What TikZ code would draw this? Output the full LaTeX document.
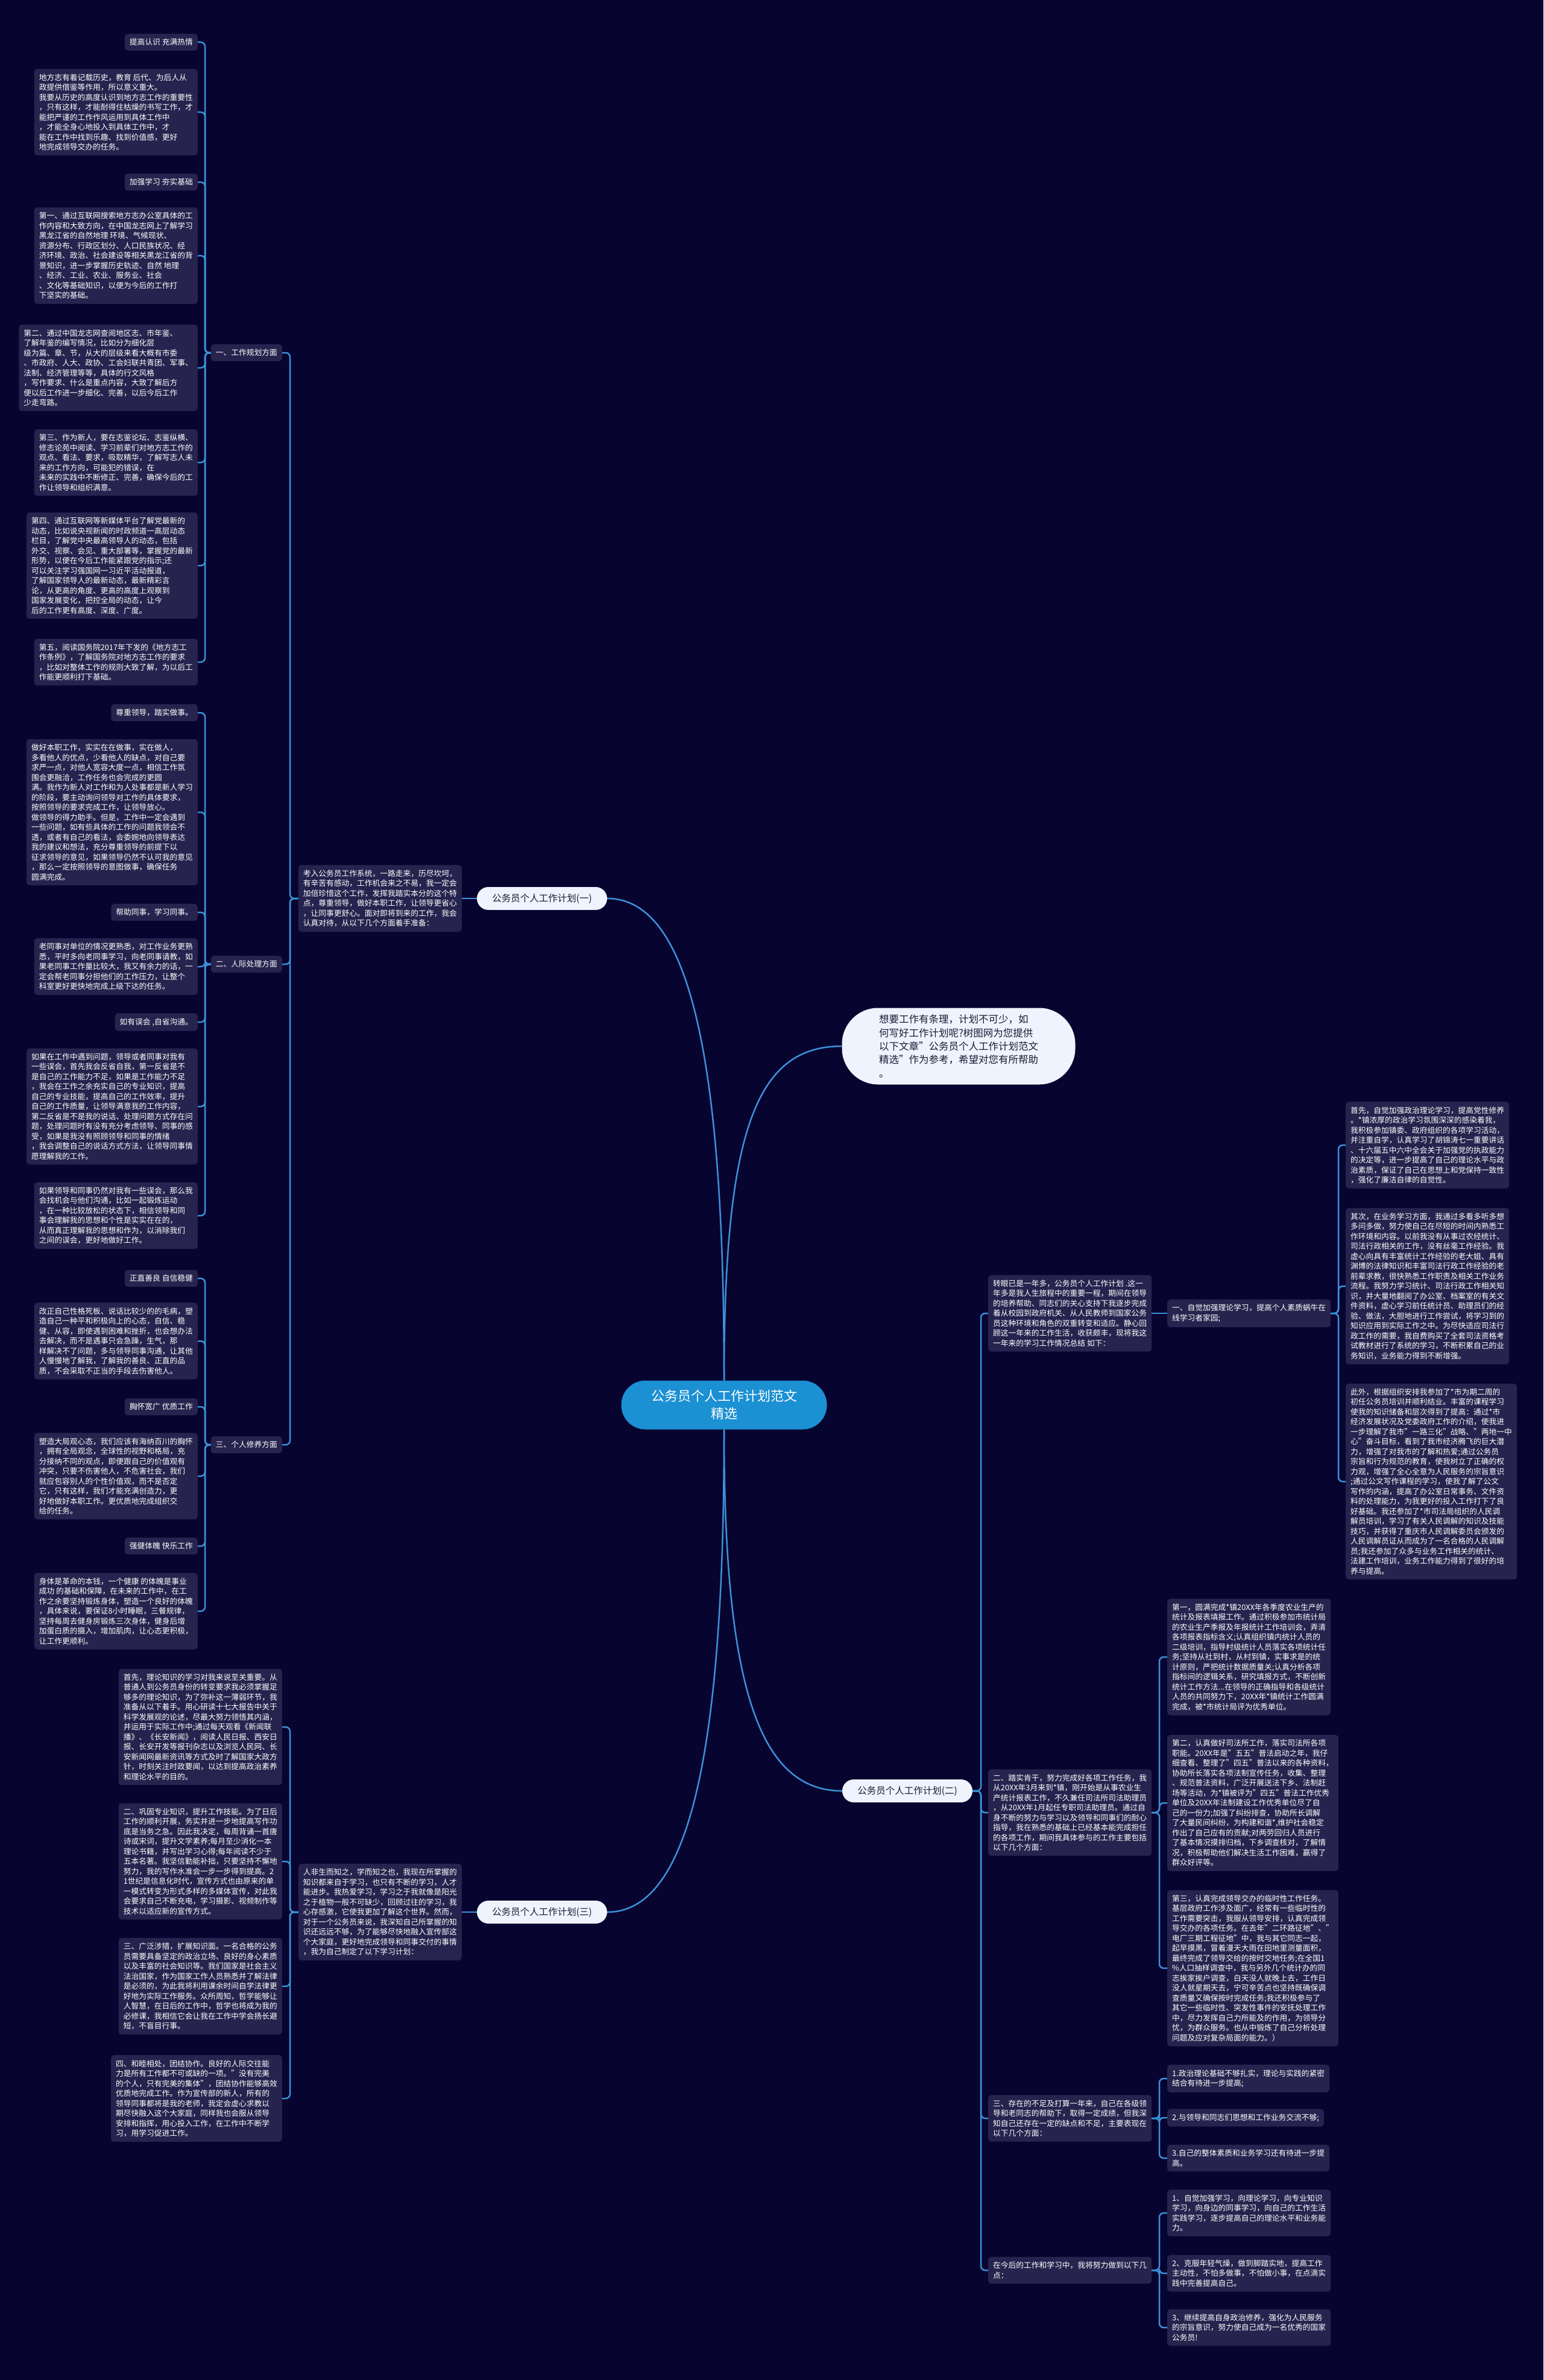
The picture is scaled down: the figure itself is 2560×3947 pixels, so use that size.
\documentclass[tikz,border=0pt]{standalone}
\usepackage{fontspec}
\setmainfont{Noto Sans CJK SC}
\definecolor{bg}{HTML}{080430}
\definecolor{boxc}{HTML}{26244E}
\definecolor{linec}{HTML}{3A92DA}
\definecolor{brc}{HTML}{EEF3FD}
\definecolor{brt}{HTML}{1A1A33}
\definecolor{ctrc}{HTML}{1B90D3}
\tikzset{
 bx/.style={fill=boxc, text=white, rounded corners=5pt, inner xsep=8pt, inner ysep=8pt, align=left, font=\fontsize{12.75}{16.5}\selectfont},
 bxl/.style={bx, anchor=east},
 bxr/.style={bx, anchor=west},
 brn/.style={fill=brc, text=brt, rounded corners=19pt, minimum width=216pt, minimum height=38pt, inner sep=0pt, font=\fontsize{15.5}{18}\selectfont},
 ctr/.style={fill=ctrc, text=white, rounded corners=40pt, minimum width=341pt, minimum height=81pt, inner sep=0pt, align=center, font=\fontsize{22}{29}\selectfont},
 intro/.style={fill=brc, text=brt, rounded corners=60pt, minimum width=387pt, minimum height=127pt, inner sep=0pt, align=left, font=\fontsize{16.5}{22.3}\selectfont},
 conn/.style={draw=linec, line width=2.5pt, rounded corners=7pt},
 curv/.style={draw=linec, line width=2.5pt},
}
\begin{document}
\begin{tikzpicture}[x=1pt,y=-1pt]
\fill[bg] (0,0) rectangle (2560,3947);
\useasboundingbox (0,0) rectangle (2560,3947);

% ---------- center, intro, branches ----------
\node[ctr] (C) at (1201,2330) {公务员个人工作计划范文\\精选};
\node[intro] (I) at (1590,1735) {想要工作有条理，计划不可少，如\\何写好工作计划呢?树图网为您提供\\以下文章"公务员个人工作计划范文\\精选"作为参考，希望对您有所帮助\\。};
\node[brn] (B1) at (899,1490) {公务员个人工作计划(一)};
\node[brn] (B2) at (1505,2970) {公务员个人工作计划(二)};
\node[brn] (B3) at (899,3171) {公务员个人工作计划(三)};

% ---------- branch (一) ----------
\node[bxl] (K1) at (766,1490) {考入公务员工作系统，一路走来，历尽坎坷，\\有辛苦有感动，工作机会来之不易，我一定会\\加倍珍惜这个工作，发挥我踏实本分的这个特\\点，尊重领导，做好本职工作，让领导更省心\\，让同事更舒心。面对即将到来的工作，我会\\认真对待，从以下几个方面着手准备：};
\node[bxl] (L1) at (468,585) {一、工作规划方面};
\node[bxl] (L2) at (468,1599) {二、人际处理方面};
\node[bxl] (L3) at (468,2396) {三、个人修养方面};

\node[bxl] (a1) at (328,70) {提高认识 充满热情};
\node[bxl] (a2) at (328,186) {地方志有着记载历史，教育 后代、为后人从\\政提供借鉴等作用，所以意义重大。\\我要从历史的高度认识到地方志工作的重要性\\，只有这样，才能耐得住枯燥的书写工作，才\\能把严谨的工作作风运用到具体工作中\\，才能全身心地投入到具体工作中，才\\能在工作中找到乐趣、找到价值感，更好\\地完成领导交办的任务。};
\node[bxl] (a3) at (328,302) {加强学习 夯实基础};
\node[bxl] (a4) at (328,424) {第一、通过互联网搜索地方志办公室具体的工\\作内容和大致方向，在中国龙志网上了解学习\\黑龙江省的自然地理 环境、气候现状、\\资源分布、行政区划分、人口民族状况、经\\济环境、政治、社会建设等相关黑龙江省的背\\景知识，进一步掌握历史轨迹、自然 地理\\、经济、工业、农业、服务业、社会\\、文化等基础知识，以便为今后的工作打\\下坚实的基础。};
\node[bxl] (a5) at (328,610) {第二、通过中国龙志网查阅地区志、市年鉴、\\了解年鉴的编写情况，比如分为细化层\\级为篇、章、节，从大的层级来看大概有市委\\、市政府、人大、政协、工会妇联共青团、军事、\\法制、经济管理等等，具体的行文风格\\，写作要求、什么是重点内容，大致了解后方\\便以后工作进一步细化、完善，以后今后工作\\少走弯路。};
\node[bxl] (a6) at (328,767) {第三、作为新人，要在志鉴论坛、志鉴纵横、\\修志论苑中阅读、学习前辈们对地方志工作的\\观点、看法、要求，吸取精华，了解写志人未\\来的工作方向，可能犯的错误，在\\未来的实践中不断修正、完善，确保今后的工\\作让领导和组织满意。};
\node[bxl] (a7) at (328,938) {第四、通过互联网等新媒体平台了解党最新的\\动态，比如说央视新闻的时政频道一高层动态\\栏目，了解党中央最高领导人的动态，包括\\外交、视察、会见、重大部署等，掌握党的最新\\形势，以便在今后工作能紧跟党的指示;还\\可以关注学习强国网一习近平活动报道，\\了解国家领导人的最新动态，最新精彩言\\论，从更高的角度、更高的高度上观察到\\国家发展变化，把控全局的动态，让今\\后的工作更有高度、深度、广度。};
\node[bxl] (a8) at (328,1098) {第五，阅读国务院2017年下发的《地方志工\\作条例》，了解国务院对地方志工作的要求\\，比如对整体工作的规则大致了解，为以后工\\作能更顺利打下基础。};

\node[bxl] (b1) at (328,1182) {尊重领导，踏实做事。};
\node[bxl] (b2) at (328,1347) {做好本职工作，实实在在做事，实在做人，\\多看他人的优点，少看他人的缺点，对自己要\\求严一点，对他人宽容大度一点，相信工作氛\\围会更融洽，工作任务也会完成的更圆\\满。我作为新人对工作和为人处事都是新人学习\\的阶段，要主动询问领导对工作的具体要求，\\按照领导的要求完成工作，让领导放心。\\做领导的得力助手。但是，工作中一定会遇到\\一些问题，如有些具体的工作的问题我领会不\\透，或者有自己的看法，会委婉地向领导表达\\我的建议和想法，充分尊重领导的前提下以\\征求领导的意见，如果领导仍然不认可我的意见\\，那么一定按照领导的意图做事，确保任务\\圆满完成。};
\node[bxl] (b3) at (328,1513) {帮助同事，学习同事。};
\node[bxl] (b4) at (328,1603) {老同事对单位的情况更熟悉，对工作业务更熟\\悉，平时多向老同事学习，向老同事请教，如\\果老同事工作量比较大，我又有余力的话，一\\定会帮老同事分担他们的工作压力，让整个\\科室更好更快地完成上级下达的任务。};
\node[bxl] (b5) at (328,1695) {如有误会 ,自省沟通。};
\node[bxl] (b6) at (328,1835) {如果在工作中遇到问题，领导或者同事对我有\\一些误会，首先我会反省自我，第一反省是不\\是自己的工作能力不足，如果是工作能力不足\\，我会在工作之余充实自己的专业知识，提高\\自己的专业技能，提高自己的工作效率，提升\\自己的工作质量，让领导满意我的工作内容，\\第二反省是不是我的说话、处理问题方式存在问\\题，处理问题时有没有充分考虑领导、同事的感\\受，如果是我没有照顾领导和同事的情绪\\，我会调整自己的说话方式方法，让领导同事情\\愿理解我的工作。};
\node[bxl] (b7) at (328,2016) {如果领导和同事仍然对我有一些误会，那么我\\会找机会与他们沟通，比如一起锻炼运动\\，在一种比较放松的状态下，相信领导和同\\事会理解我的思想和个性是实实在在的，\\从而真正理解我的思想和作为，以消除我们\\之间的误会，更好地做好工作。};

\node[bxl] (c1) at (328,2120) {正直善良 自信稳健};
\node[bxl] (c2) at (328,2224) {改正自己性格死板、说话比较少的的毛病，塑\\造自己一种平和积极向上的心态，自信、稳\\健、从容，即使遇到困难和挫折，也会想办法\\去解决，而不是遇事只会急躁，生气，那\\样解决不了问题，多与领导同事沟通，让其他\\人慢慢地了解我，了解我的善良、正直的品\\质，不会采取不正当的手段去伤害他人。};
\node[bxl] (c3) at (328,2333) {胸怀宽广 优质工作};
\node[bxl] (c4) at (328,2448) {塑造大局观心态，我们应该有海纳百川的胸怀\\，拥有全局观念，全球性的视野和格局，充\\分接纳不同的观点，即便跟自己的价值观有\\冲突，只要不伤害他人，不危害社会，我们\\就应包容别人的个性价值观，而不是否定\\它，只有这样，我们才能充满创造力，更\\好地做好本职工作。更优质地完成组织交\\给的任务。};
\node[bxl] (c5) at (328,2564) {强健体魄 快乐工作};
\node[bxl] (c6) at (328,2672) {身体是革命的本钱，一个健康 的体魄是事业\\成功 的基础和保障，在未来的工作中，在工\\作之余要坚持锻炼身体，塑造一个良好的体魄\\，具体来说，要保证8小时睡眠，三餐规律，\\坚持每周去健身房锻炼三次身体，健身后增\\加蛋白质的摄入，增加肌肉，让心态更积极，\\让工作更顺利。};

% ---------- branch (三) ----------
\node[bxl] (K3) at (766,3171) {人非生而知之，学而知之也，我现在所掌握的\\知识都来自于学习，也只有不断的学习，人才\\能进步。我热爱学习，学习之于我就像是阳光\\之于植物一般不可缺少，回顾过往的学习，我\\心存感激，它使我更加了解这个世界。然而，\\对于一个公务员来说，我深知自己所掌握的知\\识还远远不够，为了能够尽快地融入宣传部这\\个大家庭，更好地完成领导和同事交付的事情\\，我为自己制定了以下学习计划：};
\node[bxl] (d1) at (468,2864) {首先，理论知识的学习对我来说至关重要。从\\普通人到公务员身份的转变要求我必须掌握足\\够多的理论知识，为了弥补这一薄弱环节，我\\准备从以下着手。用心研读十七大报告中关于\\科学发展观的论述，尽最大努力领悟其内涵，\\并运用于实际工作中;通过每天观看《新闻联\\播》、《长安新闻》，阅读人民日报、西安日\\报、长安开发等报刊杂志以及浏览人民网、长\\安新闻网最新资讯等方式及时了解国家大政方\\针，时刻关注时政要闻，以达到提高政治素养\\和理论水平的目的。};
\node[bxl] (d2) at (468,3087) {二、巩固专业知识，提升工作技能。为了日后\\工作的顺利开展，务实并进一步地提高写作功\\底是当务之急。因此我决定，每周背诵一首唐\\诗或宋词，提升文学素养;每月至少消化一本\\理论书籍，并写出学习心得;每年阅读不少于\\五本名著。我坚信勤能补拙，只要坚持不懈地\\努力，我的写作水准会一步一步得到提高。2\\1世纪是信息化时代，宣传方式也由原来的单\\一模式转变为形式多样的多媒体宣传，对此我\\会要求自己不断充电，学习摄影、视频制作等\\技术以适应新的宣传方式。};
\node[bxl] (d3) at (468,3294) {三、广泛涉猎，扩展知识面。一名合格的公务\\员需要具备坚定的政治立场、良好的身心素质\\以及丰富的社会知识等。我们国家是社会主义\\法治国家，作为国家工作人员熟悉并了解法律\\是必须的，为此我将利用课余时间自学法律更\\好地为实际工作服务。众所周知，哲学能够让\\人智慧，在日后的工作中，哲学也将成为我的\\必修课，我相信它会让我在工作中学会扬长避\\短，不盲目行事。};
\node[bxl] (d4) at (468,3480) {四、和睦相处，团结协作。良好的人际交往能\\力是所有工作都不可或缺的一项。"没有完美\\的个人，只有完美的集体"，团结协作能够高效\\优质地完成工作。作为宣传部的新人，所有的\\领导同事都将是我的老师，我定会虚心求教以\\期尽快融入这个大家庭，同样我也会服从领导\\安排和指挥，用心投入工作，在工作中不断学\\习，用学习促进工作。};

% ---------- branch (二) ----------
\node[bxr] (e1) at (1639,2178) {转眼已是一年多，公务员个人工作计划 .这一\\年多是我人生旅程中的重要一程，期间在领导\\的培养帮助、同志们的关心支持下我逐步完成\\着从校园到政府机关、从人民教师到国家公务\\员这种环境和角色的双重转变和适应。静心回\\顾这一年来的工作生活，收获颇丰，现将我这\\一年来的学习工作情况总结 如下：};
\node[bxr] (f1) at (1936,2178) {一、自觉加强理论学习，提高个人素质蜗牛在\\线学习者家园;};
\node[bxr] (g1) at (2232,1899) {首先，自觉加强政治理论学习，提高党性修养\\。*镇浓厚的政治学习氛围深深的感染着我，\\我积极参加镇委、政府组织的各项学习活动，\\并注重自学，认真学习了胡锦涛七一重要讲话\\、十六届五中六中全会关于加强党的执政能力\\的决定等，进一步提高了自己的理论水平与政\\治素质，保证了自己在思想上和党保持一致性\\，强化了廉洁自律的自觉性。};
\node[bxr] (g2) at (2232,2133) {其次，在业务学习方面，我通过多看多听多想\\多问多做，努力使自己在尽短的时间内熟悉工\\作环境和内容。以前我没有从事过农经统计、\\司法行政相关的工作，没有丝毫工作经验。我\\虚心向具有丰富统计工作经验的老大姐、具有\\渊博的法律知识和丰富司法行政工作经验的老\\前辈求教，很快熟悉工作职责及相关工作业务\\流程。我努力学习统计、司法行政工作相关知\\识，并大量地翻阅了办公室、档案室的有关文\\件资料，虚心学习前任统计员、助理员们的经\\验、做法，大胆地进行工作尝试，将学习到的\\知识应用到实际工作之中。为尽快适应司法行\\政工作的需要，我自费购买了全套司法资格考\\试教材进行了系统的学习，不断积累自己的业\\务知识，业务能力得到不断增强。};
\node[bxr] (g3) at (2232,2457) {此外，根据组织安排我参加了*市为期二周的\\初任公务员培训并顺利结业。丰富的课程学习\\使我的知识储备和层次得到了提高：通过*市\\经济发展状况及党委政府工作的介绍，使我进\\一步理解了我市"一路三化"战略、"两地一中\\心"奋斗目标，看到了我市经济腾飞的巨大潜\\力，增强了对我市的了解和热爱;通过公务员\\宗旨和行为规范的教育，使我树立了正确的权\\力观，增强了全心全意为人民服务的宗旨意识\\;通过公文写作课程的学习，使我了解了公文\\写作的内涵，提高了办公室日常事务、文件资\\料的处理能力，为我更好的投入工作打下了良\\好基础。我还参加了*市司法局组织的人民调\\解员培训，学习了有关人民调解的知识及技能\\技巧，并获得了重庆市人民调解委员会颁发的\\人民调解员证从而成为了一名合格的人民调解\\员;我还参加了众多与业务工作相关的统计、\\法建工作培训，业务工作能力得到了很好的培\\养与提高。};

\node[bxr] (e2) at (1639,3006) {二、踏实肯干，努力完成好各项工作任务，我\\从20XX年3月来到*镇，刚开始是从事农业生\\产统计报表工作，不久兼任司法所司法助理员\\，从20XX年1月起任专职司法助理员。通过自\\身不断的努力与学习以及领导和同事们的耐心\\指导，我在熟悉的基础上已经基本能完成担任\\的各项工作，期间我具体参与的工作主要包括\\以下几个方面：};
\node[bxr] (h1) at (1936,2748) {第一，圆满完成*镇20XX年各季度农业生产的\\统计及报表填报工作。通过积极参加市统计局\\的农业生产季报及年报统计工作培训会，弄清\\各项报表指标含义;认真组织镇内统计人员的\\二级培训，指导村级统计人员落实各项统计任\\务;坚持从社到村，从村到镇，实事求是的统\\计原则，严把统计数据质量关;认真分析各项\\指标间的逻辑关系，研究填报方式，不断创新\\统计工作方法...在领导的正确指导和各级统计\\人员的共同努力下，20XX年*镇统计工作圆满\\完成，被*市统计局评为优秀单位。};
\node[bxr] (h2) at (1936,2990) {第二，认真做好司法所工作，落实司法所各项\\职能。20XX年是"五五"普法启动之年，我仔\\细查看、整理了"四五"普法以来的各种资料，\\协助所长落实各项法制宣传任务，收集、整理\\、规范普法资料，广泛开展送法下乡、法制赶\\场等活动，为*镇被评为"四五"普法工作优秀\\单位及20XX年法制建设工作优秀单位尽了自\\己的一份力;加强了纠纷排查，协助所长调解\\了大量民间纠纷，为构建和谐*,维护社会稳定\\作出了自己应有的贡献;对两劳回归人员进行\\了基本情况摸排归档，下乡调查核对，了解情\\况，积极帮助他们解决生活工作困难，赢得了\\群众好评等。};
\node[bxr] (h3) at (1936,3264) {第三，认真完成领导交办的临时性工作任务。\\基层政府工作涉及面广，经常有一些临时性的\\工作需要突击，我服从领导安排，认真完成领\\导交办的各项任务。在去年"二环路征地"、"\\电厂三期工程征地"中，我与其它同志一起，\\起早摸黑，冒着漫天大雨在田地里测量面积，\\最终完成了领导交给的按时交地任务;在全国1\\\%人口抽样调查中，我与另外几个统计办的同\\志挨家挨户调查，白天没人就晚上去，工作日\\没人就星期天去，宁可辛苦点也坚持既确保调\\查质量又确保按时完成任务;我还积极参与了\\其它一些临时性、突发性事件的安抚处理工作\\中，尽力发挥自己力所能及的作用，为领导分\\忧，为群众服务。也从中锻炼了自己分析处理\\问题及应对复杂局面的能力。）};

\node[bxr] (e3) at (1639,3513) {三、存在的不足及打算一年来，自己在各级领\\导和老同志的帮助下，取得一定成绩，但我深\\知自己还存在一定的缺点和不足，主要表现在\\以下几个方面：};
\node[bxr] (i1) at (1936,3447) {1.政治理论基础不够扎实，理论与实践的紧密\\结合有待进一步提高;};
\node[bxr] (i2) at (1936,3512) {2.与领导和同志们思想和工作业务交流不够;};
\node[bxr] (i3) at (1936,3579) {3.自己的整体素质和业务学习还有待进一步提\\高。};

\node[bxr] (e4) at (1639,3765) {在今后的工作和学习中，我将努力做到以下几\\点：};
\node[bxr] (j1) at (1936,3670) {1、自觉加强学习，向理论学习，向专业知识\\学习，向身边的同事学习，向自己的工作生活\\实践学习，逐步提高自己的理论水平和业务能\\力。};
\node[bxr] (j2) at (1936,3770) {2、克服年轻气燥，做到脚踏实地，提高工作\\主动性，不怕多做事，不怕做小事，在点滴实\\践中完善提高自己。};
\node[bxr] (j3) at (1936,3860) {3、继续提高自身政治修养，强化为人民服务\\的宗旨意识，努力使自己成为一名优秀的国家\\公务员!};

% ---------- connectors ----------
\draw[curv] (C.north) .. controls +(0,-420) and +(-140,0) .. (I.west);
\draw[curv] (C.north) .. controls +(0,-520) and +(140,0) .. (B1.east);
\draw[curv] (C.south) .. controls +(0,420) and +(-140,0) .. (B2.west);
\draw[curv] (C.south) .. controls +(0,520) and +(140,0) .. (B3.east);

\draw[conn] (B1.west) -- (K1.east);
\foreach \t in {L1,L2,L3} \draw[conn] (K1.west) -- (481,1490) |- (\t.east);
\foreach \t in {a1,a2,a3,a4,a5,a6,a7,a8} \draw[conn] (L1.west) -- (340,585) |- (\t.east);
\foreach \t in {b1,b2,b3,b4,b5,b6,b7} \draw[conn] (L2.west) -- (340,1599) |- (\t.east);
\foreach \t in {c1,c2,c3,c4,c5,c6} \draw[conn] (L3.west) -- (340,2396) |- (\t.east);

\draw[conn] (B3.west) -- (K3.east);
\foreach \t in {d1,d2,d3,d4} \draw[conn] (K3.west) -- (481,3171) |- (\t.east);

\foreach \t in {e1,e2,e3,e4} \draw[conn] (B2.east) -- (1627,2970) |- (\t.west);
\draw[conn] (e1.east) -- (f1.west);
\foreach \t in {g1,g2,g3} \draw[conn] (f1.east) -- (2220,2178) |- (\t.west);
\foreach \t in {h1,h2,h3} \draw[conn] (e2.east) -- (1923,3006) |- (\t.west);
\foreach \t in {i1,i2,i3} \draw[conn] (e3.east) -- (1923,3513) |- (\t.west);
\foreach \t in {j1,j2,j3} \draw[conn] (e4.east) -- (1923,3765) |- (\t.west);
\end{tikzpicture}
\end{document}
